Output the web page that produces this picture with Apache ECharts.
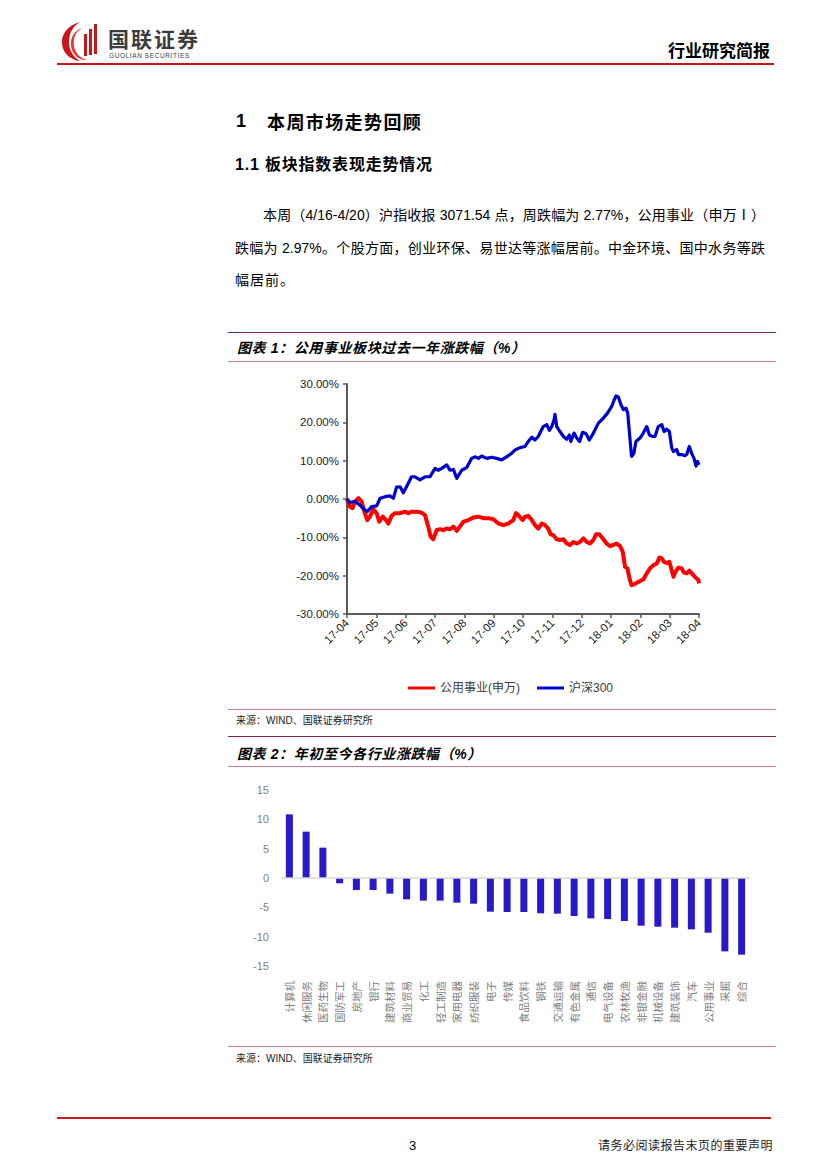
<!DOCTYPE html>
<html>
<head>
<meta charset="utf-8">
<script src="https://cdn.jsdelivr.net/npm/echarts@6/dist/echarts.min.js"></script>
<style>
  html, body { margin: 0; padding: 0; background: #fff; }
  #page { position: relative; width: 827px; height: 1169px; background: #fff; overflow: hidden;
          font-family: "Liberation Sans", "Noto Sans CJK SC", sans-serif; color: #000; }
  .abs { position: absolute; white-space: nowrap; }
  .hline { position: absolute; height: 0; }
  .jline { position: absolute; text-align: justify; text-align-last: justify; white-space: nowrap; overflow: visible; }
  .ctitle { font-weight: bold; font-style: italic; font-size: 14px; letter-spacing: 0.6px; color: #000; }
  .src { font-size: 10px; color: #222; }
</style>
</head>
<body>
<div id="page">
  <!-- header logo -->
  <svg class="abs" style="left:60px;top:20px" width="42" height="42" viewBox="0 0 42 42">
    <path d="M20 2 C8 5 1 14 2 24 C3 34 11 40 20 41 C13 37 9 30 9 22 C9 13 13 6 20 2 Z" fill="#C8161D"/>
    <path d="M22 8 C15 12 13 19 14 26 C15 33 20 38 27 40 C20 41 12 35 11 26 C10 17 15 10 22 8 Z" fill="#E03A3A"/>
    <rect x="24" y="14" width="3" height="22" fill="#C8161D"/>
    <rect x="29" y="9" width="3" height="26" fill="#C8161D"/>
    <rect x="34" y="4" width="3" height="30" fill="#C8161D"/>
  </svg>
  <div class="abs" style="left:108px;top:27px;font-size:21px;font-weight:bold;color:#3c3c3c;letter-spacing:2px;line-height:22px;font-family:'Noto Sans CJK SC',sans-serif">国联证券</div>
  <div class="abs" style="left:109px;top:52px;font-size:6.5px;color:#3c3c3c;line-height:7px;letter-spacing:0.6px">GUOLIAN SECURITIES</div>
  <div class="abs" style="left:668px;top:41px;font-size:17px;font-weight:bold;line-height:17px;font-family:'Noto Sans CJK SC',sans-serif">行业研究简报</div>
  <div class="hline" style="left:57px;top:63px;width:717px;border-top:2px solid #C8161D"></div>

  <!-- headings -->
  <div class="abs" style="left:236px;top:111px;font-size:18px;font-weight:bold;line-height:20px">1</div>
  <div class="abs" style="left:267px;top:111px;font-size:18px;font-weight:bold;line-height:20px;letter-spacing:1.4px;font-family:'Noto Sans CJK SC',sans-serif">本周市场走势回顾</div>
  <div class="abs" style="left:235px;top:154px;font-size:16px;font-weight:bold;line-height:18px;letter-spacing:0.8px">1.1 <span style="font-family:'Noto Sans CJK SC',sans-serif">板块指数表现走势情况</span></div>

  <!-- paragraph -->
  <div class="jline" style="left:263px;top:206px;width:502px;font-size:14px;line-height:18px">本周（4/16-4/20）沪指收报 3071.54 点，周跌幅为 2.77%，公用事业（申万Ⅰ）</div>
  <div class="jline" style="left:235px;top:239px;width:530px;font-size:14px;line-height:18px">跌幅为 2.97%。个股方面，创业环保、易世达等涨幅居前。中金环境、国中水务等跌</div>
  <div class="abs" style="left:235px;top:271px;font-size:14px;line-height:18px;letter-spacing:1px">幅居前。</div>

  <!-- chart 1 frame -->
  <div class="hline" style="left:228px;top:332px;width:548px;border-top:1.5px solid #8B2346"></div>
  <div class="abs ctitle" style="left:237px;top:339px;line-height:18px">图表 1：公用事业板块过去一年涨跌幅（%）</div>
  <div class="hline" style="left:228px;top:361px;width:548px;border-top:1.5px solid #D07C98"></div>
  <div id="c1" class="abs" style="left:228px;top:365px;width:548px;height:340px"></div>
  <div class="hline" style="left:228px;top:709px;width:548px;border-top:1.5px solid #D07C98"></div>
  <div class="abs src" style="left:236px;top:715px;line-height:12px">来源：WIND、国联证券研究所</div>

  <!-- chart 2 frame -->
  <div class="hline" style="left:228px;top:736px;width:548px;border-top:1.5px solid #8B2346"></div>
  <div class="abs ctitle" style="left:237px;top:745px;line-height:18px">图表 2：年初至今各行业涨跌幅（%）</div>
  <div class="hline" style="left:228px;top:766px;width:548px;border-top:1.5px solid #D07C98"></div>
  <div id="c2" class="abs" style="left:228px;top:770px;width:548px;height:275px"></div>
  <div class="hline" style="left:228px;top:1046px;width:548px;border-top:1.5px solid #D07C98"></div>
  <div class="abs src" style="left:236px;top:1053px;line-height:12px">来源：WIND、国联证券研究所</div>

  <!-- footer -->
  <div class="hline" style="left:57px;top:1117px;width:714px;border-top:2px solid #C8161D"></div>
  <div class="abs" style="left:409px;top:1139px;font-size:13px;line-height:14px">3</div>
  <div class="abs" style="left:598px;top:1140px;font-size:12px;line-height:13px;color:#222;letter-spacing:0.5px">请务必阅读报告末页的重要声明</div>
</div>

<script>
// ---- Chart 1 data: position in months since 2017-04, value in % ----
const monthLabels = ['17-04','17-05','17-06','17-07','17-08','17-09','17-10','17-11','17-12','18-01','18-02','18-03','18-04'];
const seriesNames = ['公用事业(申万)', '沪深300'];

const utilT = [0,0.10,0.19,0.27,0.39,0.50,0.61,0.69,0.78,0.90,
  1.01,1.10,1.22,1.33,1.41,1.52,1.64,1.81,1.98,2.09,
  2.20,2.38,2.55,2.66,2.77,2.85,2.94,3.06,3.17,3.28,
  3.40,3.51,3.63,3.74,3.85,3.97,4.14,4.31,4.48,4.65,
  4.82,4.99,5.16,5.33,5.50,5.67,5.76,5.84,5.88,5.99,
  6.07,6.18,6.30,6.41,6.52,6.64,6.75,6.86,6.94,7.03,
  7.15,7.26,7.38,7.49,7.60,7.72,7.83,7.94,8.06,8.17,
  8.28,8.40,8.49,8.60,8.72,8.85,8.97,9.08,9.19,9.31,
  9.40,9.48,9.56,9.63,9.70,9.82,9.99,10.10,10.22,10.33,
  10.44,10.56,10.65,10.73,10.81,10.90,10.99,11.07,11.13,11.20,
  11.30,11.41,11.49,11.58,11.67,11.75,11.86,11.98,12.00];
const utilV = [0,-2,-2.4,-0.7,0.2,-0.7,-3.7,-5.5,-4.6,-2.7,
  -3.7,-5.9,-4.6,-5.5,-6.4,-4.4,-3.7,-3.7,-3.3,-3.7,
  -3.3,-3.3,-3.6,-4.2,-7.2,-9.8,-10.5,-8.1,-7.9,-8.1,
  -7.7,-7.9,-7.2,-8.3,-7.2,-5.9,-5.5,-4.8,-4.6,-5.0,
  -5.0,-5.3,-6.4,-6.8,-6.4,-5.5,-3.7,-4.2,-4.6,-5.5,
  -4.6,-4.4,-5.5,-6.8,-7.7,-6.4,-6.8,-7.7,-9.2,-9.4,
  -10.5,-10.7,-10.5,-11.6,-12.0,-11.2,-11.6,-11.2,-10.3,-11.2,
  -11.6,-10.7,-9.2,-9.2,-10.3,-11.6,-12.3,-12.0,-11.6,-12.3,
  -13.8,-17.7,-18.1,-20.7,-22.5,-22.1,-21.4,-21.0,-19.4,-18.1,
  -17.3,-16.8,-15.3,-15.5,-16.4,-16.7,-16.4,-18.6,-20.3,-19.0,
  -17.9,-18.1,-19.2,-19.4,-18.7,-19.4,-20.3,-21.2,-22.0];

const hsT = [0,0.10,0.27,0.44,0.61,0.69,0.84,1.01,1.13,1.30,
  1.47,1.58,1.69,1.81,1.92,2.03,2.20,2.32,2.49,2.66,
  2.83,3.00,3.11,3.23,3.40,3.51,3.63,3.74,3.91,4.08,
  4.25,4.36,4.48,4.59,4.76,4.93,5.10,5.27,5.44,5.61,
  5.73,5.90,6.07,6.18,6.30,6.41,6.52,6.69,6.81,6.90,
  6.98,7.06,7.09,7.15,7.26,7.38,7.49,7.58,7.63,7.74,
  7.83,7.93,8.03,8.15,8.26,8.40,8.57,8.74,8.88,9.02,
  9.10,9.17,9.25,9.34,9.42,9.51,9.57,9.63,9.70,9.78,
  9.85,9.99,10.10,10.22,10.31,10.42,10.50,10.61,10.73,10.81,
  10.90,10.99,11.07,11.13,11.24,11.30,11.41,11.52,11.58,11.67,
  11.75,11.83,11.90,11.95,12.00];
const hsV = [0,-0.9,-0.6,-1.6,-2.9,-3.3,-2.0,-1.8,0.2,0.6,
  0.8,0.2,3.1,3.2,1.6,3.2,5.8,5.8,5.0,5.8,
  5.8,8.0,7.5,8.0,8.9,7.5,7.7,5.4,7.5,8.2,
  10.6,11.0,10.6,11.2,10.6,10.9,10.6,10.2,11.0,11.9,
  12.8,13.4,13.7,15.0,16.1,15.4,16.3,18.9,19.4,17.9,
  18.9,20.7,22.1,18.9,17.6,16.3,15.6,16.7,15.0,17.2,
  15.9,15.0,17.4,17.0,15.4,17.2,19.8,21.1,22.4,24.1,
  25.7,26.9,26.6,24.6,23.3,23.7,22.4,17.2,11.1,11.9,
  15.0,15.9,17.2,18.9,16.7,16.3,16.3,18.9,19.4,17.6,
  18.2,17.6,13.3,12.4,12.9,11.6,11.6,11.3,11.6,13.7,
  11.9,10.6,8.6,9.8,8.9];

// ---- Chart 2 data ----
const industries = ['计算机','休闲服务','医药生物','国防军工','房地产','银行','建筑材料','商业贸易','化工','轻工制造',
  '家用电器','纺织服装','电子','传媒','食品饮料','钢铁','交通运输','有色金属','通信','电气设备',
  '农林牧渔','非银金融','机械设备','建筑装饰','汽车','公用事业','采掘','综合'];
const ytdChange = [10.85,7.9,5.17,-0.9,-2.05,-2.05,-2.67,-3.64,-3.86,-3.86,
  -4.2,-4.38,-5.74,-5.8,-5.8,-6.02,-6.08,-6.48,-6.88,-7.0,
  -7.33,-8.13,-8.3,-8.47,-8.75,-9.32,-12.5,-13.07];

const zip = (t, v) => t.map((x, i) => [x, v[i]]);

const c1 = echarts.init(document.getElementById('c1'), null, { renderer: 'svg' });
c1.setOption({
  animation: false,
  grid: { left: 119, top: 19, width: 352, height: 230 },
  legend: {
    left: 175, top: 312,
    itemWidth: 27, itemHeight: 3, itemGap: 17,
    icon: 'rect',
    textStyle: { fontSize: 12, color: '#404040', fontFamily: 'Liberation Sans, Noto Sans CJK SC' },
    data: seriesNames
  },
  xAxis: {
    type: 'value', min: 0, max: 12, interval: 1,
    axisLine: { onZero: false, lineStyle: { color: '#595959', width: 2 } },
    axisTick: { show: true, length: 4, lineStyle: { color: '#595959', width: 1.5 } },
    splitLine: { show: false },
    axisLabel: {
      rotate: 45, margin: 7, fontSize: 11.5, color: '#222',
      fontFamily: 'Liberation Sans',
      formatter: v => monthLabels[Math.round(v)] || ''
    }
  },
  yAxis: {
    type: 'value', min: -30, max: 30, interval: 10,
    axisLine: { show: true, lineStyle: { color: '#595959', width: 2 } },
    axisTick: { show: true, length: 4, lineStyle: { color: '#595959', width: 1.5 } },
    splitLine: { show: false },
    axisLabel: { margin: 8, fontSize: 11.5, color: '#222', fontFamily: 'Liberation Sans', formatter: v => v.toFixed(2) + '%' }
  },
  series: [
    { name: seriesNames[0], type: 'line', data: zip(utilT, utilV), showSymbol: false, symbol: 'none',
      lineStyle: { color: '#FF0000', width: 4, join: 'round' }, itemStyle: { color: '#FF0000' } },
    { name: seriesNames[1], type: 'line', data: zip(hsT, hsV), showSymbol: false, symbol: 'none',
      lineStyle: { color: '#0000CC', width: 3.2, join: 'round' }, itemStyle: { color: '#0000CC' } }
  ]
});

const c2 = echarts.init(document.getElementById('c2'), null, { renderer: 'svg' });
c2.setOption({
  animation: false,
  grid: { left: 53, top: 20, width: 469, height: 176 },
  xAxis: {
    type: 'category', data: industries,
    axisLine: { show: false, onZero: false },
    axisTick: { show: false },
    axisLabel: { interval: 0, rotate: 90, margin: 15, fontSize: 10.5, color: '#808080',
      fontFamily: 'Noto Sans CJK SC' }
  },
  yAxis: {
    type: 'value', min: -15, max: 15, interval: 5,
    axisLine: { show: false }, axisTick: { show: false }, splitLine: { show: false },
    axisLabel: { margin: 12, fontSize: 11, color: '#7F7F7F', fontFamily: 'Liberation Sans' }
  },
  series: [{
    type: 'bar', data: ytdChange, barWidth: 7,
    itemStyle: { color: '#2A19C9' },
    markLine: {
      silent: true, symbol: 'none', label: { show: false },
      lineStyle: { color: '#D9D9D9', width: 1.5, type: 'solid' },
      data: [{ yAxis: 0 }]
    }
  }]
});
</script>
</body>
</html>
